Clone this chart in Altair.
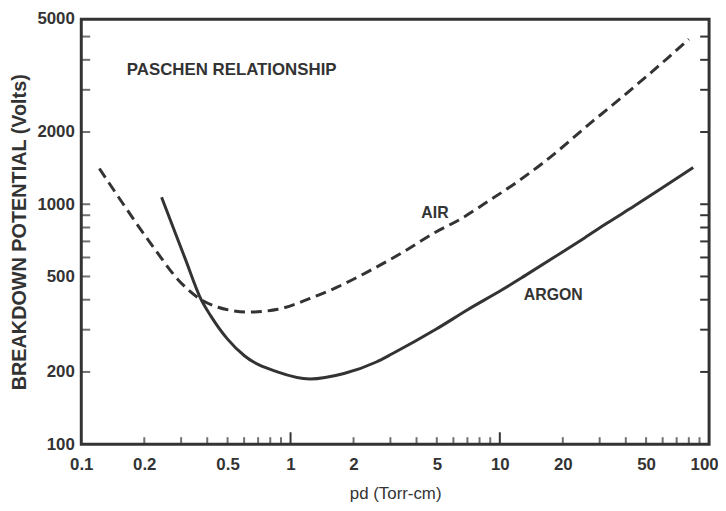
import altair as alt
import pandas as pd

# ---- data ----
air_pd = [0.122, 0.146, 0.226, 0.29, 0.36, 0.45, 0.52, 0.62, 0.87, 1.24, 1.66, 2.3,
          3.4, 4.95, 6.6, 8.5, 12.2, 15.9, 28.0, 40.5, 50.0, 63.0, 80.0]
air_v = [1410, 1115, 645, 485, 409, 372, 361, 355, 365, 405, 450, 519,
         627, 766, 875, 1009, 1245, 1475, 2230, 2908, 3400, 4050, 4880]

argon_pd = [0.242, 0.291, 0.314, 0.374, 0.417, 0.50, 0.604, 0.865, 1.24, 1.80, 2.57,
            3.06, 4.95, 7.08, 10.3, 13.2, 17.7, 25.4, 32.6, 43.7, 84.0]
argon_v = [1069, 703, 592, 400, 341, 274, 233, 200, 187, 197, 220,
           238, 301, 365, 441, 504, 592, 724, 835, 981, 1422]

x_labels = [0.1, 0.2, 0.5, 1, 2, 5, 10, 20, 50, 100]
y_labels = [100, 200, 500, 1000, 2000, 5000]

x_minor_ticks = [0.2, 0.3, 0.4, 0.5, 0.6, 0.7, 0.8, 0.9,
                 2, 3, 4, 5, 6, 7, 8, 9,
                 20, 30, 40, 50, 60, 70, 80, 90]
x_major_ticks = [1, 10]
y_minor_ticks = [200, 300, 400, 500, 600, 700, 800, 900, 1000, 2000, 3000, 4000, 5000]

title_text = ["PASCHEN RELATIONSHIP"]
title_pd = [0.165]
title_v = [3613]

curve_labels = ["AIR", "ARGON"]
curve_label_pd = [4.9, 18.0]
curve_label_v = [918, 418]

# ---- styling ----
C = "#333333"
FONT = "Liberation Sans"
W, H = 634, 429

x_scale = alt.Scale(type="log", domain=[0.1, 100], nice=False)
y_scale = alt.Scale(type="log", domain=[100, 5900], nice=False)

x_axis = alt.Axis(values=x_labels, format="~g", ticks=False, tickSize=0, domain=False,
                  grid=False, labelFlush=False, labelPadding=13, labelFontSize=17,
                  labelFontWeight="bold", labelColor=C, labelFont=FONT,
                  labelOffset={"condition": {"test": "datum.value == 100", "value": -5},
                               "value": 0},
                  titleFont=FONT, titleFontSize=17, titleFontWeight="normal",
                  titleColor=C, titlePadding=13)
y_axis = alt.Axis(values=y_labels, format="~g", ticks=False, tickSize=0, domain=False,
                  grid=False, labelPadding=7, labelFontSize=17, labelFontWeight="bold",
                  labelColor=C, labelFont=FONT, titleFont=FONT, titleFontSize=20,
                  titleFontWeight="bold", titleColor=C, titlePadding=7,
                  labelOffset={"condition": {"test": "datum.value == 5000", "value": -18},
                               "value": 0})

X = alt.X("pd:Q", scale=x_scale, axis=x_axis, title="pd (Torr-cm)")
Y = alt.Y("v:Q", scale=y_scale, axis=y_axis, title="BREAKDOWN POTENTIAL (Volts)")

df_air = pd.DataFrame({"pd": air_pd, "v": air_v})
df_argon = pd.DataFrame({"pd": argon_pd, "v": argon_v})

air = alt.Chart(df_air).mark_line(
    color=C, strokeWidth=3, strokeDash=[11, 6], interpolate="monotone"
).encode(x=X, y=Y)

argon = alt.Chart(df_argon).mark_line(
    color=C, strokeWidth=3, interpolate="monotone"
).encode(x=X, y=Y)

df_title = pd.DataFrame({"pd": title_pd, "v": title_v, "t": title_text})
title = alt.Chart(df_title).mark_text(
    align="left", baseline="middle", font=FONT, fontSize=17, fontWeight="bold", color=C
).encode(x=X, y=Y, text="t:N")

df_cl = pd.DataFrame({"pd": curve_label_pd, "v": curve_label_v, "t": curve_labels})
clabels = alt.Chart(df_cl).mark_text(
    align="center", baseline="middle", font=FONT, fontSize=16, fontWeight="bold", color=C
).encode(x=X, y=Y, text="t:N")

df_xmin = pd.DataFrame({"pd": x_minor_ticks})
df_xmaj = pd.DataFrame({"pd": x_major_ticks})
df_ymin = pd.DataFrame({"v": y_minor_ticks})

# inward ticks along the frame
t_bottom = alt.Chart(df_xmin).mark_tick(orient="vertical", size=7, thickness=2, color=C).encode(
    x=X, y=alt.value(H - 3.5))
t_bottom_major = alt.Chart(df_xmaj).mark_rule(color=C, strokeWidth=2).encode(
    x=X, y=alt.value(H), y2=alt.value(H - 12))
t_left = alt.Chart(df_ymin).mark_tick(orient="horizontal", size=9, thickness=2, color=C).encode(
    y=Y, x=alt.value(4.5))
t_right = alt.Chart(df_ymin).mark_rule(color=C, strokeWidth=2).encode(
    y=Y, x=alt.value(W), x2=alt.value(W - 9))

chart = alt.layer(
    air, argon, title, clabels, t_bottom, t_bottom_major, t_left, t_right
).properties(
    width=W, height=H,
    autosize=alt.AutoSizeParams(type="none"),
    padding={"left": 74, "top": 9, "right": 9, "bottom": 57},
    background="white",
).configure(font=FONT).configure_view(stroke=C, strokeWidth=3)

chart.save("out.html", embed_options={"renderer": "svg", "actions": False})
